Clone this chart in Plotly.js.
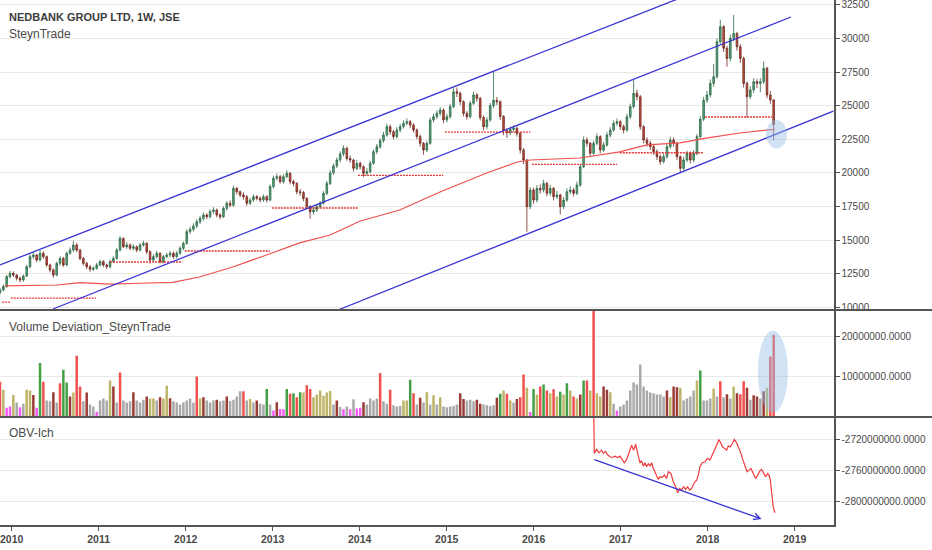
<!DOCTYPE html>
<html><head><meta charset="utf-8">
<script src="https://cdn.plot.ly/plotly-3.0.1.min.js"></script>
<style>html,body{margin:0;padding:0;background:#fff}#chart{width:932px;height:550px}</style>
</head><body><div id="chart"></div>
<script>
// ---- time index: 2-week candles, decimal years ----
const startYear = 2009.866;
const stepYears = 14 / 365.25;

// ---- price candles ----
const opens = [
11100,11290,11540,12280,12530,12400,12160,12030,12330,13020,
13770,13890,13520,14020,13770,13150,12780,12400,13270,13640,
13150,14020,14260,14640,14260,13640,13270,13020,12830,12900,
13150,13400,13150,13020,13400,13640,14260,15130,14510,14640,
14390,14510,14260,14640,14760,14140,13520,13770,14020,13400,
13770,13890,14020,13770,14020,14390,14760,15630,15800,16050,
16370,16620,16870,16740,17120,17240,16870,16740,17360,17740,
17600,18850,18600,18360,18230,17740,17980,18230,18110,17980,
18230,17980,18980,19600,19720,19350,19720,19970,19350,19220,
18600,18540,18100,17500,17100,17240,17490,17740,18480,19220,
20000,20520,20960,21410,21830,21080,20960,20340,20710,20460,
19970,20090,20710,21580,21950,22400,22820,23440,23070,22700,
23190,23440,23690,23810,23560,23190,22700,22200,21700,22200,
23940,24180,24430,24680,23940,24180,24930,26040,25920,25300,
24430,24180,25180,25800,25550,24120,23440,23940,25000,25400,
25300,24200,23140,22990,23240,23320,22940,21700,20960,17490,
18730,17980,18850,18730,19220,18480,18850,18230,18360,17490,
17980,18600,18730,18480,19100,20460,22450,22200,21460,22200,
22700,21700,22080,22820,23190,23690,23810,23440,23190,24180,
24930,25920,25670,23440,22450,22200,21950,21580,21210,20840,
21210,21950,22450,22200,21210,20340,20960,21460,20960,21450,
22700,24000,25400,25800,26660,27160,29760,30880,29270,28520,
30010,30380,29390,28520,26660,25670,26170,26790,26660,26790,
27780,25800,25420];
const highs = [
11450,11700,12400,12700,12680,12480,12300,12450,13150,13950,
14150,13980,14250,14150,13850,13250,12900,13400,13800,13750,
14150,14450,14950,14800,14350,13750,13400,13150,13050,13300,
13550,13500,13250,13550,13800,14400,15300,15200,14850,14750,
14700,14600,14800,14950,14850,14250,13950,14200,14100,13900,
14050,14200,14150,14200,14550,14900,15800,16000,16250,16550,
16800,17050,17000,17300,17450,17350,17000,17500,17900,17950,
19050,18950,18700,18550,18350,18150,18400,18350,18250,18400,
18350,19150,19800,19950,19850,19900,20200,20050,19500,19300,
18800,18650,18200,17600,17450,17700,17900,18650,19400,20200,
20700,21150,21600,22050,21950,21300,21050,20950,20850,20550,
20350,20900,21750,22150,22600,23050,23650,23600,23200,23400,
23650,23900,24050,23950,23700,23300,22850,22300,22400,24100,
24400,24650,24900,24800,24400,25150,26300,26350,26050,25400,
24600,25350,26050,25950,25650,24250,24150,25200,27530,25650,
25400,24300,23350,23450,23550,23450,23050,21850,21050,18950,
18900,19100,19150,19500,19350,19100,18950,18650,18450,18200,
18850,19000,18900,19350,20650,22700,22650,22300,22400,22950,
22800,22300,23050,23400,23900,24050,23950,23600,24400,25150,
26900,26200,25800,23550,22650,22400,22100,21750,21350,21450,
22150,22700,22650,22300,21300,21200,21650,21600,21700,22900,
24250,25650,26100,26950,28100,30000,31400,31000,29450,30300,
31750,30500,29600,28650,26800,26450,27050,27000,27050,28300,
27900,26100,25500];
const lows = [
10950,11180,11450,12150,12250,12000,11850,11900,12250,12900,
13600,13350,13400,13600,13000,12600,12200,12300,13100,13000,
13050,13900,14100,14100,13500,13100,12850,12650,12700,12800,
13050,13000,12850,12900,13300,13550,14150,14400,14350,14250,
14250,14100,14150,14500,13950,13250,13400,13650,13250,13250,
13650,13750,13600,13650,13900,14250,14650,15450,15650,15900,
16200,16450,16550,16600,16950,16700,16550,16650,17200,17450,
17500,18400,18200,18000,17550,17600,17850,17950,17800,17850,
17800,17900,18850,19450,19200,19200,19600,19150,19000,18400,
18300,17900,17300,16600,16900,17100,17350,17650,18350,19100,
19850,20350,20800,21250,20900,20750,20100,20200,20250,19700,
19800,19950,20600,21400,21800,22250,22700,22850,22500,22550,
23000,23300,23550,23350,23000,22500,21950,21350,21550,22100,
23750,24000,24250,23700,23750,24050,24800,25650,25050,24200,
23950,24050,25050,25300,23900,23150,23250,23800,24800,25050,
23950,22800,22600,22800,23050,22700,21450,20650,15620,17300,
17700,17800,18450,18550,18250,18300,17950,18050,16900,17300,
17850,18400,18250,18350,18950,20350,21950,21200,21300,22050,
21450,21550,21950,22650,23050,23500,23200,22950,23050,24000,
24800,25400,23200,22200,21950,21700,21350,20950,20600,20700,
21050,21800,21950,20950,19990,20200,20800,20700,20800,21300,
22550,23850,25200,25600,26400,27000,29600,29000,27900,28300,
29800,29100,28200,26350,24100,25500,25950,26300,26000,26600,
25550,25150,22450];
const closes = [
11290,11540,12280,12530,12400,12160,12030,12330,13020,13770,
13890,13520,14020,13770,13150,12780,12400,13270,13640,13150,
14020,14260,14640,14260,13640,13270,13020,12830,12900,13150,
13400,13150,13020,13400,13640,14260,15130,14510,14640,14390,
14510,14260,14640,14760,14140,13520,13770,14020,13400,13770,
13890,14020,13770,14020,14390,14760,15630,15800,16050,16370,
16620,16870,16740,17120,17240,16870,16740,17360,17740,17600,
18850,18600,18360,18230,17740,17980,18230,18110,17980,18230,
17980,18980,19600,19720,19350,19720,19970,19350,19220,18600,
18540,18100,17500,17100,17240,17490,17740,18480,19220,20000,
20520,20960,21410,21830,21080,20960,20340,20710,20460,19970,
20090,20710,21580,21950,22400,22820,23440,23070,22700,23190,
23440,23690,23810,23560,23190,22700,22200,21700,22200,23940,
24180,24430,24680,23940,24180,24930,26040,25920,25300,24430,
24180,25180,25800,25550,24120,23440,23940,25000,25400,25300,
24200,23140,22990,23240,23320,22940,21700,20960,17490,18730,
17980,18850,18730,19220,18480,18850,18230,18360,17490,17980,
18600,18730,18480,19100,20460,22450,22200,21460,22200,22700,
21700,22080,22820,23190,23690,23810,23440,23190,24180,24930,
25920,25670,23440,22450,22200,21950,21580,21210,20840,21210,
21950,22450,22200,21210,20340,20960,21460,20960,21450,22700,
24000,25400,25800,26660,27160,29760,30880,29270,28520,30010,
30380,29390,28520,26660,25670,26170,26790,26660,26790,27780,
25800,25420,23600];

// ---- moving average (red curve) ----
const maYears = [2009.92,2010.52,2010.79,2011.13,2011.48,2011.85,2012.16,2012.54,2012.93,2013.31,2013.66,2014.00,2014.46,2014.95,2015.46,2015.81,2015.96,2016.25,2016.53,2016.99,2017.30,2017.68,2018.00,2018.37,2018.77];
const maValues = [11590,11660,11830,11730,11790,11860,12255,13000,13890,14790,15380,16400,17240,18650,19990,20810,20960,21030,21110,21560,22080,22230,22600,22970,23240];

// ---- yearly support levels (red dotted) ----
const levelStart = [2009.89,2009.99,2011.13,2011.99,2012.99,2013.98,2014.98,2015.98,2016.99,2017.97];
const levelEnd   = [2009.98,2010.97,2011.96,2012.97,2013.98,2014.96,2015.96,2016.96,2017.95,2018.74];
const levelPrice = [10380,10690,13370,14190,17390,19820,23040,20640,21500,24160];

// ---- trend channel (blue) ----
const upperX = [2009.866, 2017.70], upperY = [13148, 33054];
const middleX = [2010.475, 2018.957], middleY = [9874, 31599];
const lowerX = [2013.751, 2019.445], lowerY = [9800, 24600];

// ---- Volume Deviation (millions) ----
const volume = [
8.7,6.7,2.2,2.5,5.4,3.5,2.3,3.2,6.7,6.5,
5.4,2.2,13.4,8.7,4.0,3.8,6.1,3.5,8.3,11.7,
8.5,5.0,6.0,15.2,7.5,3.8,6.0,3.0,2.5,1.2,
4.0,4.5,4.0,9.0,7.5,3.5,11.0,4.0,3.5,3.8,
6.1,4.0,3.5,4.2,5.0,4.5,4.5,4.0,4.8,4.5,
7.7,4.6,3.8,3.5,3.0,3.6,4.0,4.5,3.5,10.0,
4.5,4.8,4.0,3.5,4.0,4.2,3.8,4.0,5.0,3.9,
4.2,5.0,6.3,6.3,4.0,4.4,3.5,4.0,3.2,3.0,
6.9,3.0,1.5,3.6,1.9,1.8,6.9,5.7,5.8,4.8,
6.1,6.0,7.8,6.9,4.8,5.5,6.5,5.2,6.0,6.4,
3.0,4.0,2.4,1.8,2.5,1.8,4.3,2.0,2.2,3.6,
3.0,4.5,4.0,4.5,10.9,3.8,3.2,6.7,2.8,2.5,
2.6,4.0,4.0,9.2,5.8,3.0,4.7,3.5,6.1,3.0,
5.3,3.0,4.8,2.5,2.3,2.5,2.6,3.0,5.8,4.4,
4.0,4.2,3.8,4.2,3.2,3.0,2.8,2.6,2.8,4.7,
5.7,6.5,5.7,4.0,3.5,4.4,4.8,10.5,7.2,1.1,
6.9,5.5,7.5,8.0,6.5,5.8,6.8,5.0,6.2,5.5,
8.3,6.5,5.0,4.5,5.5,9.0,9.0,6.5,40,5.8,
5.0,7.5,6.7,6.1,3.2,1.5,2.5,3.0,4.0,6.5,
8.5,8.0,13.0,7.5,6.5,6.0,5.8,5.5,5.5,5.0,
6.5,4.8,7.5,7.3,7.2,4.0,4.5,5.0,6.5,9.0,
11.5,4.0,4.0,4.5,7.0,5.0,8.8,4.8,5.6,4.5,
7.5,5.8,5.6,8.8,7.2,4.2,5.3,5.0,4.5,6.3,
7.2,15.0,20.5];
const volumeKinds = [
'r','o','m','m','o','g','m','g','o','o',
'd','m','G','r','g','g','d','g','r','G',
'G','d','o','r','r','g','d','g','g','m',
'g','g','g','o','d','g','r','g','g','g',
'd','g','g','g','d','o','o','g','d','o',
'o','d','g','g','g','g','g','g','g','r',
'o','d','g','g','g','d','g','g','d','g',
'g','g','g','r','g','o','g','d','g','g',
'G','g','m','d','m','m','G','r','G','r',
'G','o','r','r','o','o','o','o','o','o',
'g','d','g','m','g','m','g','m','m','d',
'g','g','g','g','r','g','g','r','g','g',
'g','o','o','G','r','g','d','g','o','g',
'o','g','o','g','g','g','g','g','d','d',
'g','g','g','d','d','g','g','g','g','d',
'G','o','r','o','g','d','r','r','o','m',
'G','o','r','G','r','o','r','o','G','o',
'G','o','r','o','d','G','r','o','r','o',
'o','d','d','o','g','m','g','g','g','g',
'g','g','g','g','g','g','g','g','g','g',
'd','o','d','d','o','g','g','g','g','o',
'G','g','g','g','o','g','r','g','d','g',
'o','d','r','r','d','g','d','d','g','d',
'o','r','r'];
const kindColor = {g:'#a9a9a9', o:'#bdb56a', G:'#43a047', r:'#f0504f', d:'#9a3b36', m:'#f25cf2'};

// ---- OBV-Ich (millions) ----
const obvYears = [2016.680,2016.697,2016.724,2016.751,2016.781,2016.800,2016.827,2016.850,2016.877,2016.904,2016.934,2016.965,2016.992,2017.019,2017.042,2017.069,2017.095,2017.126,2017.149,2017.172,2017.195,2017.222,2017.241,2017.260,2017.279,2017.298,2017.318,2017.337,2017.356,2017.375,2017.402,2017.433,2017.452,2017.479,2017.502,2017.528,2017.548,2017.578,2017.605,2017.632,2017.655,2017.678,2017.701,2017.724,2017.747,2017.770,2017.793,2017.816,2017.846,2017.873,2017.892,2017.911,2017.938,2017.969,2017.999,2018.026,2018.046,2018.072,2018.103,2018.130,2018.153,2018.176,2018.199,2018.218,2018.237,2018.260,2018.283,2018.306,2018.333,2018.360,2018.383,2018.406,2018.429,2018.452,2018.475,2018.498,2018.524,2018.551,2018.574,2018.601,2018.620,2018.643,2018.666,2018.689,2018.705,2018.720,2018.735,2018.754,2018.774];
const obvValues = [-2600,-2737.7,-2732.6,-2736.9,-2733.5,-2737.7,-2735.2,-2739.4,-2742.0,-2742.9,-2741.2,-2742.9,-2741.2,-2746.3,-2749.7,-2745.4,-2737.7,-2727.1,-2733.5,-2725.8,-2737.7,-2749.7,-2747.1,-2754.0,-2749.7,-2754.8,-2750.6,-2754.0,-2749.7,-2757.0,-2763.4,-2771.1,-2767.7,-2768.5,-2765.5,-2769.8,-2761.2,-2763.4,-2774.1,-2780.5,-2788.2,-2782.6,-2784.7,-2780.5,-2783.9,-2780.5,-2784.7,-2782.6,-2775.3,-2771.9,-2765.5,-2754.8,-2749.7,-2748.4,-2744.1,-2746.3,-2741.2,-2735.6,-2727.1,-2719.8,-2724.9,-2730.0,-2731.3,-2733.5,-2728.3,-2729.2,-2724.9,-2719.8,-2724.1,-2731.3,-2737.7,-2746.3,-2754.8,-2761.2,-2759.1,-2757.0,-2763.4,-2769.8,-2765.5,-2760.0,-2758.2,-2763.4,-2767.7,-2763.4,-2765.5,-2771.9,-2789.0,-2807.0,-2813.8];
const obvArrowX = [2016.68, 2018.62];
const obvArrowY = [-2745, -2822];

// ---- highlight ellipses ----
const priceEllipseX = [2018.67, 2018.911], priceEllipseY = [21830, 23936];
const volEllipseX = [2018.577, 2018.922], volEllipseY = [1.0, 21.5];

// ---- axis ticks ----
const yearTicks = [2010,2011,2012,2013,2014,2015,2016,2017,2018,2019];
const priceTicks = [10000,12500,15000,17500,20000,22500,25000,27500,30000,32500];
const volTicks = [10000000, 20000000];
const volTickText = ['10000000.0000','20000000.0000'];
const obvTicks = [-2720000000,-2760000000,-2800000000];
const obvTickText = ['-2720000000.0000','-2760000000.0000','-2800000000.0000'];

const times = closes.map((_, i) => startYear + i * stepYears);

const levelX = [], levelY = [];
levelPrice.forEach((p, k) => { levelX.push(levelStart[k], levelEnd[k], null); levelY.push(p, p, null); });

const blue = '#3a33d6';
const traces = [
  {type:'scatter', mode:'lines', x:levelX, y:levelY, xaxis:'x', yaxis:'y', line:{color:'#e53935', width:1.3, dash:'2px,1px'}, connectgaps:false, hoverinfo:'skip'},
  {type:'scatter', mode:'lines', x:maYears, y:maValues, xaxis:'x', yaxis:'y', line:{color:'#ef4f4f', width:1.2}, hoverinfo:'skip'},
  {type:'candlestick', x:times, open:opens, high:highs, low:lows, close:closes, xaxis:'x', yaxis:'y',
   increasing:{line:{color:'#2f6a48', width:0.8}, fillcolor:'#56a378'},
   decreasing:{line:{color:'#6e2a20', width:0.8}, fillcolor:'#c64e3c'},
   whiskerwidth:0, hoverinfo:'skip'},
  {type:'scatter', mode:'lines', x:upperX, y:upperY, xaxis:'x', yaxis:'y', line:{color:blue, width:1.3}, hoverinfo:'skip'},
  {type:'scatter', mode:'lines', x:middleX, y:middleY, xaxis:'x', yaxis:'y', line:{color:blue, width:1.3}, hoverinfo:'skip'},
  {type:'scatter', mode:'lines', x:lowerX, y:lowerY, xaxis:'x', yaxis:'y', line:{color:blue, width:1.3}, hoverinfo:'skip'},
  {type:'bar', x:times, y:volume.map(v => v * 1e6), xaxis:'x', yaxis:'y2',
   marker:{color:volumeKinds.map(k => kindColor[k]), line:{width:0}}, hoverinfo:'skip'},
  {type:'scatter', mode:'lines', x:obvYears, y:obvValues.map(v => v * 1e6), xaxis:'x', yaxis:'y3', line:{color:'#f23b3b', width:1.2}, hoverinfo:'skip'}
];

const tickFont = {family:'Liberation Sans, Arial, sans-serif', size:10, color:'#4a4a4a'};
const H = 525;
const yCommon = {side:'right', anchor:'x', showgrid:true, gridcolor:'#e8e8e8', zeroline:false, showline:true,
  linecolor:'#555', linewidth:1.5, ticks:'outside', ticklen:4, tickcolor:'#555', tickfont:tickFont, ticklabeloverflow:'allow'};
const layout = {
  width:932, height:550, margin:{l:0, r:98, t:0, b:25},
  paper_bgcolor:'#ffffff', plot_bgcolor:'#ffffff', showlegend:false, hovermode:false,
  font:{family:'Liberation Sans, Arial, sans-serif', color:'#4a4a4a'},
  bargap:0.25,
  xaxis:{domain:[0,1], range:[2009.866, 2019.452], anchor:'y3', tickvals:yearTicks, ticktext:yearTicks.map(String),
    ticks:'outside', ticklen:4, tickcolor:'#555', showline:true, linecolor:'#555', linewidth:1.5,
    showgrid:false, zeroline:false, rangeslider:{visible:false}, ticklabeloverflow:'allow',
    tickfont:{family:'Liberation Sans, Arial, sans-serif', size:10.5, color:'#4a4a4a', weight:'bold'}},
  yaxis:Object.assign({domain:[215.5/H, 1], range:[9837, 32864], tickvals:priceTicks, ticktext:priceTicks.map(String)}, yCommon),
  yaxis2:Object.assign({domain:[108.5/H, 214.5/H], range:[0, 26.55e6], tickvals:volTicks, ticktext:volTickText}, yCommon),
  yaxis3:Object.assign({domain:[0, 107/H], range:[-2829.6e6, -2692.2e6], tickvals:obvTicks, ticktext:obvTickText}, yCommon),
  shapes:[
    {type:'circle', xref:'x', yref:'y', x0:priceEllipseX[0], x1:priceEllipseX[1], y0:priceEllipseY[0], y1:priceEllipseY[1],
     fillcolor:'rgba(150,190,228,0.45)', line:{width:0}, layer:'above'},
    {type:'circle', xref:'x', yref:'y2', x0:volEllipseX[0], x1:volEllipseX[1], y0:volEllipseY[0]*1e6, y1:volEllipseY[1]*1e6,
     fillcolor:'rgba(150,190,228,0.45)', line:{width:0}, layer:'above'},
    {type:'line', xref:'paper', yref:'paper', x0:0, x1:932/834, y0:(H-310)/H, y1:(H-310)/H, line:{color:'#555', width:2}},
    {type:'line', xref:'paper', yref:'paper', x0:0, x1:932/834, y0:(H-417)/H, y1:(H-417)/H, line:{color:'#555', width:2}}
  ],
  annotations:[
    {xref:'paper', yref:'paper', x:7/834, y:1-17/H, xanchor:'left', yanchor:'middle', showarrow:false,
     text:'<b>NEDBANK GROUP LTD, 1W, JSE</b>', font:{size:11, color:'#3c3c3c'}},
    {xref:'paper', yref:'paper', x:7/834, y:1-34/H, xanchor:'left', yanchor:'middle', showarrow:false,
     text:'SteynTrade', font:{size:12, color:'#4a4a4a'}},
    {xref:'paper', yref:'paper', x:7/834, y:1-327/H, xanchor:'left', yanchor:'middle', showarrow:false,
     text:'Volume Deviation_SteynTrade', font:{size:12, color:'#4a4a4a'}},
    {xref:'paper', yref:'paper', x:7/834, y:1-433/H, xanchor:'left', yanchor:'middle', showarrow:false,
     text:'OBV-Ich', font:{size:12, color:'#4a4a4a'}},
    {xref:'x', yref:'y3', axref:'x', ayref:'y3', x:obvArrowX[1], y:obvArrowY[1]*1e6, ax:obvArrowX[0], ay:obvArrowY[0]*1e6,
     text:'', showarrow:true, arrowhead:5, arrowsize:1, arrowwidth:1.3, arrowcolor:blue, standoff:0}
  ]
};

Plotly.newPlot('chart', traces, layout, {staticPlot:true, displayModeBar:false});
</script>
</body></html>
